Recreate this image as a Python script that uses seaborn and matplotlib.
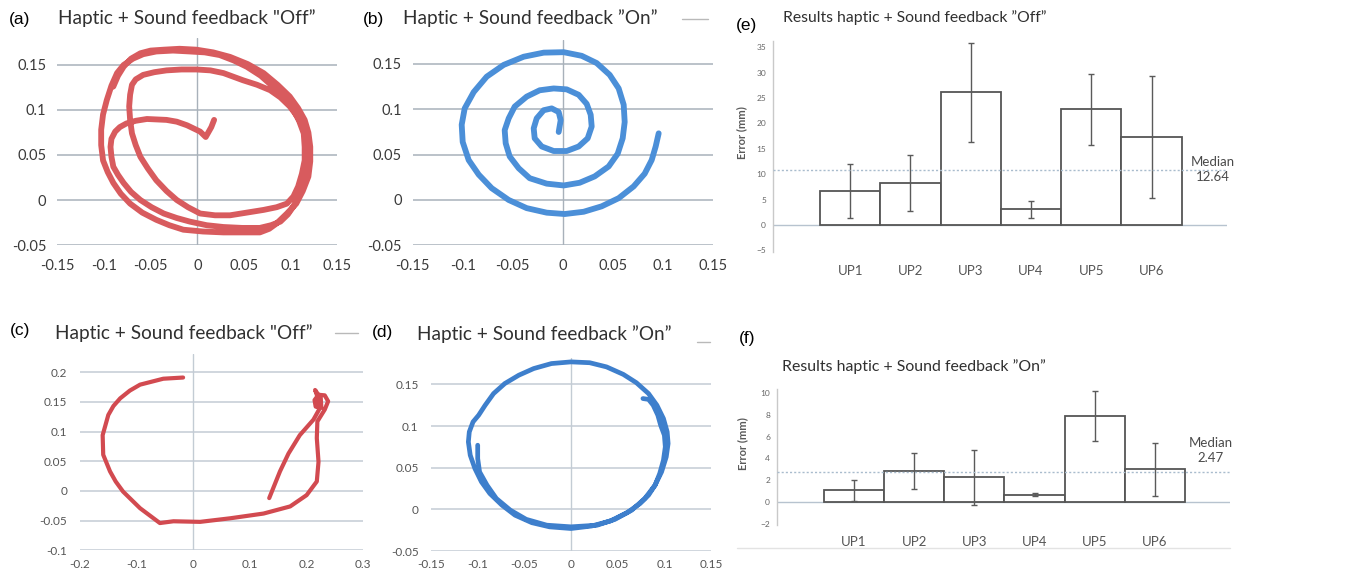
import matplotlib
matplotlib.use("Agg")
import matplotlib.pyplot as plt
import pandas as pd
import seaborn as sns
from matplotlib.lines import Line2D

# --- DATA ---
# (a) haptic + sound feedback "Off", first trace
a_x = [0.018, 0.015, 0.009, 0.003, -0.011, -0.022, -0.033, -0.054, -0.066, -0.076, -0.083, -0.088,
       -0.092, -0.093, -0.092, -0.090, -0.085, -0.079, -0.071, -0.061, -0.049, -0.036, -0.022, -0.008,
       0.010, 0.028, 0.048, 0.067, 0.079, 0.089, 0.097, 0.103, 0.109, 0.114, 0.117, 0.119,
       0.118, 0.114, 0.107, 0.099, 0.089, 0.078, 0.064, 0.049, 0.028, 0.014, -0.001, -0.017,
       -0.033, -0.046, -0.058, -0.066, -0.070, -0.072, -0.073, -0.072, -0.070, -0.066, -0.061, -0.053,
       -0.044, -0.033, -0.022, -0.010, 0.003, 0.019, 0.035, 0.053, 0.071, 0.085, 0.096, 0.103,
       0.108, 0.112, 0.115, 0.115, 0.114, 0.109, 0.103, 0.093, 0.081, 0.068, 0.053, 0.039,
       0.024, 0.008, -0.008, -0.026, -0.044, -0.058, -0.069, -0.079, -0.086, -0.092, -0.097, -0.101,
       -0.103, -0.103, -0.101, -0.096, -0.090, -0.082, -0.072, -0.059, -0.044, -0.030, -0.015, 0.006,
       0.028, 0.048, 0.067, 0.077, 0.085, 0.096, 0.106, 0.113, 0.119, 0.121, 0.121, 0.119,
       0.115, 0.108, 0.099, 0.086, 0.071, 0.054, 0.035, 0.017, -0.001, -0.019, -0.036, -0.050,
       -0.061, -0.071, -0.079, -0.085, -0.090]
a_y = [0.089, 0.081, 0.070, 0.076, 0.083, 0.087, 0.089, 0.090, 0.088, 0.085, 0.081, 0.076,
       0.068, 0.059, 0.048, 0.037, 0.028, 0.019, 0.009, 0.000, -0.008, -0.015, -0.020, -0.024,
       -0.028, -0.030, -0.031, -0.031, -0.028, -0.024, -0.016, -0.007, 0.005, 0.019, 0.035, 0.052,
       0.067, 0.081, 0.093, 0.104, 0.114, 0.122, 0.128, 0.133, 0.141, 0.144, 0.145, 0.145,
       0.144, 0.142, 0.139, 0.134, 0.128, 0.117, 0.104, 0.089, 0.074, 0.061, 0.048, 0.035,
       0.022, 0.010, 0.000, -0.008, -0.015, -0.017, -0.017, -0.014, -0.011, -0.008, -0.004, 0.004,
       0.015, 0.029, 0.044, 0.059, 0.074, 0.088, 0.100, 0.114, 0.126, 0.138, 0.148, 0.155,
       0.161, 0.164, 0.165, 0.166, 0.165, 0.162, 0.157, 0.150, 0.141, 0.127, 0.111, 0.095,
       0.078, 0.061, 0.044, 0.031, 0.019, 0.007, -0.004, -0.014, -0.022, -0.028, -0.033, -0.035,
       -0.036, -0.036, -0.036, -0.032, -0.026, -0.015, -0.004, 0.010, 0.026, 0.043, 0.059, 0.075,
       0.089, 0.102, 0.115, 0.128, 0.141, 0.151, 0.159, 0.164, 0.167, 0.168, 0.167, 0.166,
       0.163, 0.157, 0.148, 0.138, 0.126]

# (b) haptic + sound feedback "On", spiral
b_x = [-0.004, -0.002, -0.004, -0.011, -0.019, -0.026, -0.029, -0.028, -0.021, -0.009, 0.004, 0.016,
       0.025, 0.029, 0.028, 0.024, 0.016, 0.004, -0.009, -0.023, -0.036, -0.048, -0.054, -0.058,
       -0.057, -0.053, -0.044, -0.033, -0.016, 0.001, 0.017, 0.032, 0.046, 0.055, 0.060, 0.062,
       0.061, 0.056, 0.047, 0.034, 0.019, 0.001, -0.019, -0.039, -0.059, -0.076, -0.089, -0.098,
       -0.101, -0.100, -0.094, -0.084, -0.071, -0.054, -0.036, -0.016, 0.002, 0.021, 0.039, 0.056,
       0.071, 0.082, 0.089, 0.093, 0.096]
b_y = [0.075, 0.088, 0.097, 0.101, 0.099, 0.090, 0.079, 0.068, 0.059, 0.054, 0.054, 0.059,
       0.068, 0.081, 0.094, 0.106, 0.116, 0.122, 0.123, 0.121, 0.114, 0.103, 0.090, 0.077,
       0.0625, 0.048, 0.035, 0.024, 0.018, 0.016, 0.019, 0.026, 0.037, 0.051, 0.068, 0.086,
       0.105, 0.123, 0.138, 0.151, 0.159, 0.163, 0.1625, 0.158, 0.149, 0.136, 0.119, 0.101,
       0.083, 0.064, 0.044, 0.028, 0.013, 0.000, -0.009, -0.014, -0.0155, -0.013, -0.007, 0.002,
       0.015, 0.029, 0.044, 0.059, 0.0735]

# (c) haptic + sound feedback "Off", second trace
c_x = [-0.018, -0.053, -0.094, -0.112, -0.129, -0.141, -0.150, -0.160, -0.159, -0.147, -0.137, -0.124,
       -0.109, -0.094, -0.059, -0.035, 0.012, 0.065, 0.124, 0.171, 0.200, 0.218, 0.221, 0.218,
       0.219, 0.232, 0.238, 0.232, 0.221, 0.214, 0.216, 0.226, 0.225, 0.215, 0.219, 0.222,
       0.212, 0.188, 0.168, 0.153, 0.134]
c_y = [0.191, 0.189, 0.179, 0.169, 0.156, 0.143, 0.128, 0.094, 0.061, 0.033, 0.016, -0.001,
       -0.015, -0.029, -0.054, -0.051, -0.052, -0.046, -0.038, -0.026, -0.007, 0.016, 0.049, 0.089,
       0.117, 0.137, 0.151, 0.161, 0.162, 0.153, 0.142, 0.140, 0.156, 0.170, 0.159, 0.137,
       0.120, 0.094, 0.063, 0.033, -0.012]

# (d) haptic + sound feedback "On", circle
d_x = [0.077, 0.083, 0.088, 0.093, 0.096, 0.100, 0.101, 0.099, 0.095, 0.090, 0.083, 0.074,
       0.060, 0.042, 0.022, 0.000, -0.023, -0.042, -0.060, -0.074, -0.087, -0.096, -0.103, -0.108,
       -0.110, -0.109, -0.105, -0.099, -0.092, -0.083, -0.071, -0.056, -0.040, -0.021, 0.000, 0.020,
       0.038, 0.056, 0.070, 0.083, 0.092, 0.099, 0.103, 0.104, 0.102, 0.097, 0.090, 0.079,
       0.065, 0.047, 0.028, 0.000, -0.026, -0.048, -0.065, -0.080, -0.090, -0.098, -0.100, -0.100]
d_y = [0.133, 0.132, 0.125, 0.113, 0.101, 0.089, 0.075, 0.059, 0.043, 0.029, 0.017, 0.007,
       -0.004, -0.014, -0.020, -0.023, -0.021, -0.016, -0.007, 0.005, 0.019, 0.033, 0.049, 0.065,
       0.081, 0.093, 0.105, 0.113, 0.125, 0.139, 0.151, 0.161, 0.169, 0.175, 0.177, 0.176,
       0.171, 0.162, 0.152, 0.139, 0.125, 0.109, 0.093, 0.079, 0.063, 0.045, 0.029, 0.013,
       -0.001, -0.012, -0.019, -0.021, -0.019, -0.012, -0.001, 0.013, 0.029, 0.045, 0.061, 0.077]

# (e) / (f) error per user
users = ["UP1", "UP2", "UP3", "UP4", "UP5", "UP6"]
err_off = [6.7, 8.2, 26.1, 3.1, 22.8, 17.4]
err_off_sd = [5.3, 5.5, 9.8, 1.7, 7.0, 12.0]
median_off = 10.9
median_off_txt = "Median\n12.64"
err_on = [1.07, 2.84, 2.26, 0.67, 7.9, 3.0]
err_on_sd = [0.95, 1.65, 2.5, 0.12, 2.3, 2.4]
median_on = 2.8
median_on_txt = "Median\n2.47"

# tick labels
ticks_015 = [-0.15, -0.1, -0.05, 0, 0.05, 0.1, 0.15]
lbl_015 = ["-0.15", "-0.1", "-0.05", "0", "0.05", "0.1", "0.15"]
yticks_ab = [-0.05, 0, 0.05, 0.1, 0.15]
ylbl_ab = ["-0.05", "0", "0.05", "0.1", "0.15"]
xticks_c = [-0.2, -0.1, 0, 0.1, 0.2, 0.3]
xlbl_c = ["-0.2", "-0.1", "0", "0.1", "0.2", "0.3"]
yticks_c = [-0.1, -0.05, 0, 0.05, 0.1, 0.15, 0.2]
ylbl_c = ["-0.1", "-0.05", "0", "0.05", "0.1", "0.15", "0.2"]
yticks_e = [-5, 0, 5, 10, 15, 20, 25, 30, 35]
yticks_f = [-2, 0, 2, 4, 6, 8, 10]

# --- STYLE ---
sns.set_theme(style="white")
plt.rcParams['font.family'] = ['Lato', 'DejaVu Sans']

RED_A = "#d85b5e"
RED_C = "#d24a50"
BLUE_B = "#4b8fd8"
BLUE_D = "#3e7fcc"

fig = plt.figure(figsize=(13.58, 5.78), dpi=100)


def traj_panel(rect, xs, ys, color, lw, xlim, ylim, xt, xl, yt, yl, fs, tc, gc, xpad, ypad):
    ax = fig.add_axes(rect)
    ax.set_xlim(xlim)
    ax.set_ylim(ylim)
    for t in yt:
        ax.axhline(t, color=gc, lw=1.1, zorder=0)
    ax.axvline(0, color=gc, lw=1.0, zorder=0)
    sns.lineplot(x=xs, y=ys, sort=False, estimator=None, color=color, lw=lw,
                 solid_capstyle="round", solid_joinstyle="round", ax=ax)
    for s in ax.spines.values():
        s.set_visible(False)
    ax.set_xticks(xt)
    ax.set_xticklabels(xl)
    ax.set_yticks(yt)
    ax.set_yticklabels(yl)
    ax.tick_params(axis="x", length=0, pad=xpad, labelsize=fs, labelcolor=tc)
    ax.tick_params(axis="y", length=0, pad=ypad, labelsize=fs, labelcolor=tc)
    ax.set_xlabel("")
    ax.set_ylabel("")
    ax.set_facecolor("none")
    return ax


traj_panel([0.0422, 0.5761, 0.2062, 0.3582], a_x, a_y, RED_A, 4.2, (-0.15, 0.15), (-0.05, 0.18),
           ticks_015, lbl_015, yticks_ab, ylbl_ab, 10.5, "#3a3a3a", "#a8b1ba", 10, 8)
traj_panel([0.3039, 0.5756, 0.2209, 0.3545], b_x, b_y, BLUE_B, 4.2, (-0.15, 0.15), (-0.05, 0.176),
           ticks_015, lbl_015, yticks_ab, ylbl_ab, 10.5, "#3a3a3a", "#a8b1ba", 10, 8)
traj_panel([0.0589, 0.0478, 0.2086, 0.3391], c_x, c_y, RED_C, 3.0, (-0.2, 0.3), (-0.1, 0.23),
           xt=xticks_c, xl=xlbl_c, yt=yticks_c, yl=ylbl_c, fs=8.5, tc="#555555", gc="#c3ccd4",
           xpad=6, ypad=9)
traj_panel([0.3174, 0.0467, 0.2062, 0.3344], d_x, d_y, BLUE_D, 3.4, (-0.15, 0.15), (-0.05, 0.182),
           ticks_015, lbl_015, yticks_ab, ylbl_ab, 8.5, "#555555", "#c3ccd4", 6, 9)


def bar_panel(rect, vals, sds, ylim, yt, med, med_txt, med_xy, ylab_xy, xpad):
    ax = fig.add_axes(rect)
    df = pd.DataFrame({"user": users, "err": vals})
    sns.barplot(data=df, x="user", y="err", color="white", edgecolor="#555555",
                linewidth=1.3, width=1.0, errorbar=None, ax=ax, zorder=2)
    ax.errorbar(range(len(users)), vals, yerr=sds, fmt="none", ecolor="#5a5a5a",
                elinewidth=1.0, capsize=2.5, capthick=1.0, zorder=3)
    ax.set_xlim(-1.28, 6.25)
    ax.set_ylim(ylim)
    ax.axhline(0, color="#b7c3cf", lw=1.0, zorder=1)
    ax.axhline(med, color="#a9bccd", lw=1.0, ls=(0, (1.5, 1.5)), zorder=4)
    ax.text(med_xy[0], med_xy[1], med_txt, ha="center", va="center", fontsize=9.5,
            color="#4a4a4a", linespacing=1.3)
    for k, s in ax.spines.items():
        s.set_visible(k == "left")
    ax.spines["left"].set_color("#c9c9c9")
    ax.spines["left"].set_linewidth(1.0)
    ax.set_yticks(yt)
    ax.tick_params(axis="y", length=0, pad=5, labelsize=6, labelcolor="#666666")
    ax.tick_params(axis="x", length=0, pad=xpad, labelsize=9.5, labelcolor="#555555")
    ax.set_xlabel("")
    ax.set_ylabel("Error (mm)", fontsize=8, color="#5a5a5a", fontweight="bold")
    ax.yaxis.set_label_coords(*ylab_xy)
    ax.set_facecolor("none")
    return ax


bar_panel([0.5692, 0.5640, 0.3343, 0.3651], err_off, err_off_sd, (-5.3, 36.2), yticks_e,
          median_off, median_off_txt, (6.02, 10.9), (-0.057, 0.564), 9)
bar_panel([0.5722, 0.0917, 0.3336, 0.2358], err_on, err_on_sd, (-2.1, 10.4), yticks_f,
          median_on, median_on_txt, (5.93, 4.7), (-0.064, 0.60), 8)

# --- panel letters and titles ---
TITLE_C = "#303030"
letters = [("(a)", 0.0147, 0.9654), ("(b)", 0.2747, 0.9654), ("(c)", 0.0147, 0.4290),
           ("(d)", 0.2820, 0.4239), ("(e)", 0.5500, 0.9567), ("(f)", 0.5500, 0.4152)]
for s, x, y in letters:
    fig.text(x, y, s, ha="center", va="center", fontsize=12.5, color="black",
             family=["Liberation Sans", "DejaVu Sans"])

titles = [('Haptic + Sound feedback "Off\u201d', 0.0427, 0.9689, 13.7),
          ('Haptic + Sound feedback \u201dOn\u201d', 0.2968, 0.9689, 13.7),
          ('Haptic + Sound feedback "Off\u201d', 0.0405, 0.4239, 13.7),
          ('Haptic + Sound feedback \u201dOn\u201d', 0.3071, 0.4222, 13.7),
          ('Results haptic + Sound feedback \u201dOff\u201d', 0.5766, 0.9689, 11.3),
          ('Results haptic + Sound feedback \u201dOn\u201d', 0.5758, 0.3650, 11.4)]
for s, x, y, fs in titles:
    fig.text(x, y, s, ha="left", va="center", fontsize=fs, color=TITLE_C)

# stray legend stubs and chart border from the original spreadsheet export
for (x0, x1, y) in [(0.5022, 0.5214, 0.9671), (0.2467, 0.2636, 0.4239), (0.5133, 0.5228, 0.4083)]:
    fig.add_artist(Line2D([x0, x1], [y, y], color="#b9b9b9", lw=1.0))
fig.add_artist(Line2D([0.5427, 0.9058], [0.0519, 0.0519], color="#e3e3e3", lw=1.0))

plt.savefig("out.png", dpi=100)
plt.close()
